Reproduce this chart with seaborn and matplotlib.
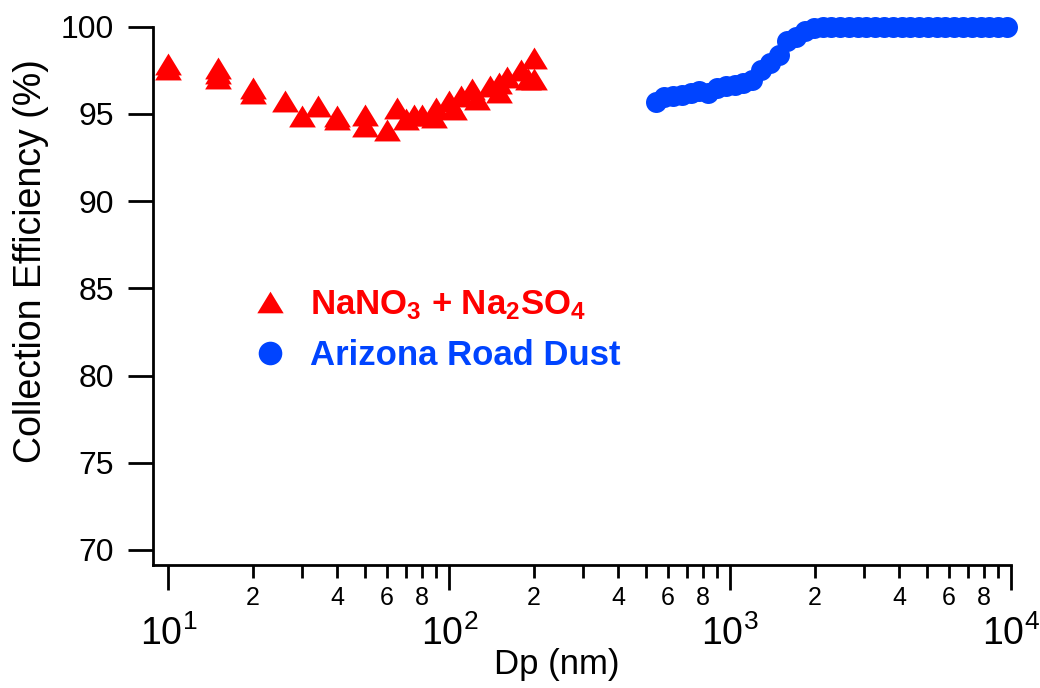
import matplotlib
matplotlib.use("Agg")
import matplotlib.pyplot as plt
import seaborn as sns
import numpy as np
import pandas as pd
from matplotlib.ticker import FixedLocator, FuncFormatter
from matplotlib.lines import Line2D

# ---------------- data ----------------
salt_dp = [10, 10, 15, 15, 15, 20, 20, 26, 30, 34, 40, 40, 50, 50, 60, 65, 70,
           75, 80, 88, 90, 100, 104, 110, 120, 125, 140, 150, 150, 160, 180,
           190, 200, 200]
salt_ce = [97.85, 97.56, 97.62, 97.33, 97.06, 96.47, 96.20, 95.75, 94.88, 95.47,
           94.90, 94.70, 94.95, 94.30, 94.05, 95.32, 94.69, 94.94, 94.94, 94.80,
           95.32, 95.74, 95.30, 96.03, 96.41, 95.85, 96.60, 96.79, 96.25, 97.12,
           97.50, 97.00, 98.22, 96.98]

dust_dp = [542, 583, 626, 673, 723, 777, 835, 898, 965, 1037, 1114, 1197, 1286,
           1382, 1486, 1596, 1715, 1843, 1981, 2129, 2288, 2458, 2642, 2839, 3051,
           3278, 3523, 3786, 4068, 4371, 4698, 5048, 5425, 5829, 6264, 6732, 7234,
           7774, 8354, 8977, 9647]
dust_ce = [95.66, 95.95, 96.02, 96.10, 96.20, 96.30, 96.22, 96.48, 96.58, 96.68,
           96.76, 96.95, 97.50, 97.90, 98.40, 99.20, 99.43, 99.75, 99.92, 99.97,
           99.98, 99.98, 99.99, 99.99, 100.0, 100.0, 100.0, 100.0, 100.0, 100.0,
           100.0, 100.0, 100.0, 100.0, 100.0, 100.0, 100.0, 100.0, 100.0, 100.0,
           100.0]

series_labels = [r"NaNO$\mathbf{_3}$ + Na$\mathbf{_2}$SO$\mathbf{_4}$", "Arizona Road Dust"]
series_colors = ["#FF0000", "#0044FF"]

x_major_ticks = [10, 100, 1000, 10000]
x_major_labels = [r"$\mathregular{10^{1}}$", r"$\mathregular{10^{2}}$",
                  r"$\mathregular{10^{3}}$", r"$\mathregular{10^{4}}$"]
x_minor_mult = [2, 3, 4, 5, 6, 7, 8, 9]
x_minor_labeled = [2, 4, 6, 8]
y_ticks = [70, 75, 80, 85, 90, 95, 100]

# ---------------- style ----------------
sns.set_theme(style="ticks")
plt.rcParams["font.family"] = ["Liberation Sans", "DejaVu Sans"]
plt.rcParams["mathtext.fontset"] = "custom"
plt.rcParams["mathtext.rm"] = "Liberation Sans"
plt.rcParams["mathtext.bf"] = "Liberation Sans:bold"
plt.rcParams["mathtext.it"] = "Liberation Sans:italic"
plt.rcParams["axes.edgecolor"] = "black"
plt.rcParams["axes.labelcolor"] = "black"
plt.rcParams["text.color"] = "black"
plt.rcParams["xtick.color"] = "black"
plt.rcParams["ytick.color"] = "black"

tri = [(-1.0, -0.82), (1.0, -0.82), (0.0, 0.82)]

fig = plt.figure(figsize=(10.4, 6.88), dpi=100)
ax = fig.add_axes([0.1468, 0.1788, 0.8256, 0.7824])

df_salt = pd.DataFrame({"Dp": salt_dp, "CE": salt_ce})
df_dust = pd.DataFrame({"Dp": dust_dp, "CE": dust_ce})

sns.scatterplot(data=df_salt, x="Dp", y="CE", marker=tri, s=370,
                color=series_colors[0], linewidth=0, ax=ax, legend=False,
                zorder=3, clip_on=False)
sns.scatterplot(data=df_dust, x="Dp", y="CE", marker="o", s=228,
                color=series_colors[1], linewidth=0, ax=ax, legend=False,
                zorder=3, clip_on=False)

ax.set_xscale("log")
ax.set_xlim(8.8, 10000)
ax.set_ylim(69.14, 100)
ax.set_yticks(y_ticks)
ax.set_yticklabels([str(v) for v in y_ticks])

ax.xaxis.set_major_locator(FixedLocator(x_major_ticks))
ax.set_xticklabels(x_major_labels)
minor_pos = [m * 10 ** e for e in (1, 2, 3) for m in x_minor_mult]
ax.xaxis.set_minor_locator(FixedLocator(minor_pos))


def minor_fmt(v, pos):
    m = int(round(v / 10 ** np.floor(np.log10(v) + 1e-9)))
    return str(m) if m in x_minor_labeled else ""


ax.xaxis.set_minor_formatter(FuncFormatter(minor_fmt))

ax.tick_params(axis="x", which="major", direction="out", length=18, width=2,
               labelsize=27, pad=18)
ax.tick_params(axis="x", which="minor", direction="out", length=9.4, width=2,
               labelsize=18, pad=6)
ax.tick_params(axis="y", which="major", direction="out", length=18, width=2,
               labelsize=23, pad=10)
ax.tick_params(axis="y", which="minor", left=False)

for s in ["top", "right"]:
    ax.spines[s].set_visible(False)
for s in ["left", "bottom"]:
    ax.spines[s].set_linewidth(2)
    ax.spines[s].set_color("black")

ax.set_ylabel("Collection Efficiency (%)", fontsize=27)
ax.set_xlabel("Dp (nm)", fontsize=25)
ax.yaxis.set_label_coords(-0.121, 0.565)
ax.xaxis.set_label_coords(0.471, -0.155)

handles = [
    Line2D([], [], linestyle="none", marker=tri, markersize=19,
           markerfacecolor=series_colors[0], markeredgewidth=0),
    Line2D([], [], linestyle="none", marker="o", markersize=17,
           markerfacecolor=series_colors[1], markeredgewidth=0),
]
leg = ax.legend(handles, series_labels, loc="upper left",
                bbox_to_anchor=(251 / 1040, 1 - 288 / 688),
                bbox_transform=fig.transFigure, frameon=False,
                prop={"weight": "bold", "size": 25},
                labelcolor=series_colors, handlelength=1.1,
                handletextpad=0.6, labelspacing=0.5, borderpad=0,
                borderaxespad=0)

fig.savefig("out.png", dpi=100, facecolor="white")
